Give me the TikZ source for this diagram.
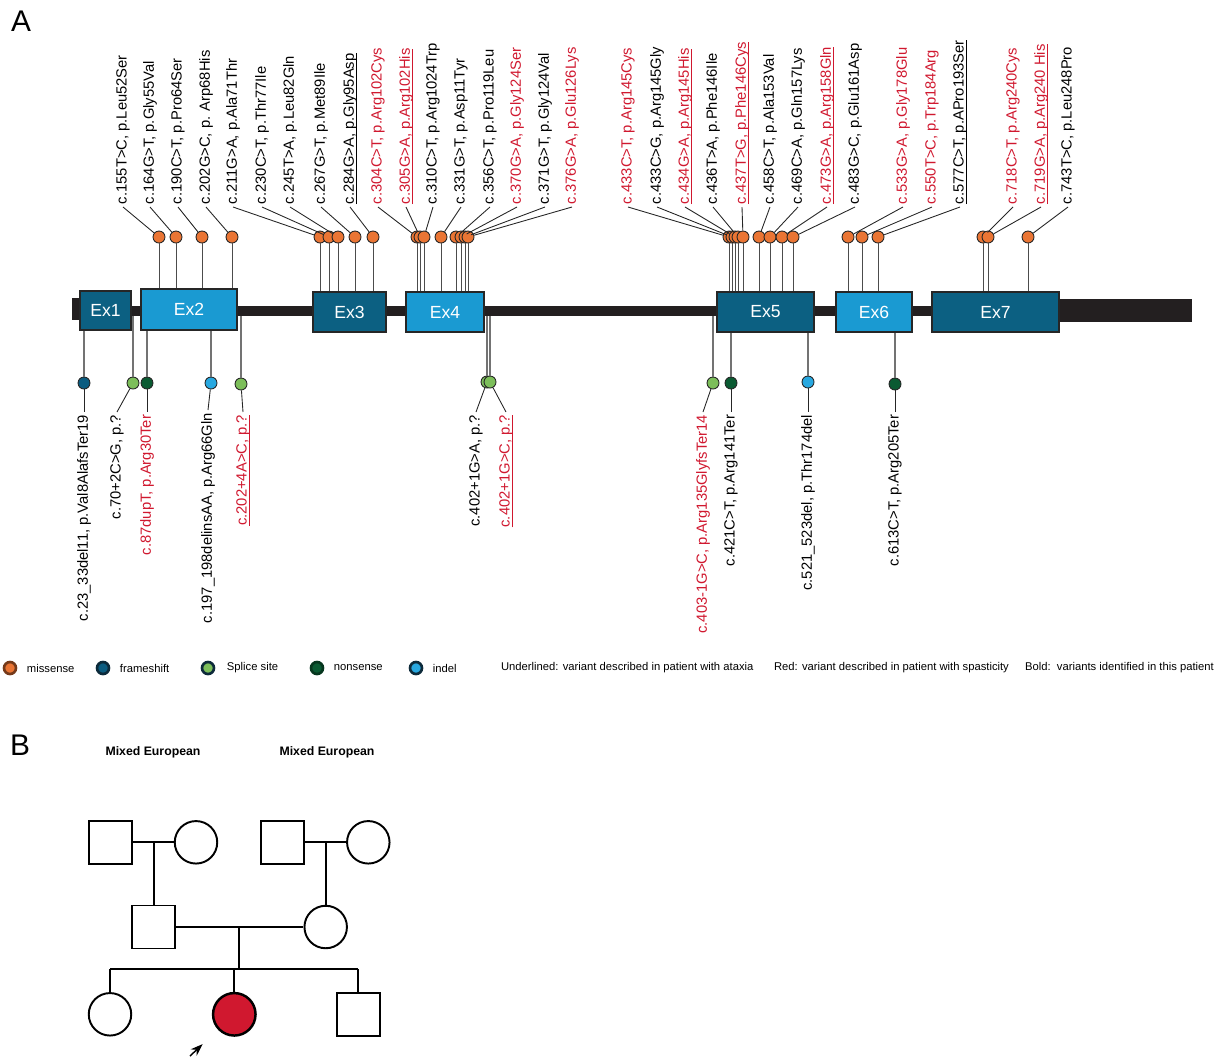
\documentclass[tikz,border=0pt]{standalone}
\usepackage{fontspec}
\setmainfont{Liberation Sans}
\usetikzlibrary{positioning,arrows.meta}
\newsavebox\ulbox
\newcommand{\ulvar}[1]{\sbox\ulbox{#1}\rlap{\rule[-1.6pt]{\wd\ulbox}{0.45pt}}\usebox\ulbox}
\definecolor{exdark}{RGB}{12,96,130}
\definecolor{exlight}{RGB}{26,154,210}
\definecolor{misscol}{RGB}{234,117,52}
\definecolor{fscol}{RGB}{11,92,128}
\definecolor{splcol}{RGB}{124,190,90}
\definecolor{noncol}{RGB}{10,90,50}
\definecolor{indcol}{RGB}{40,168,224}
\definecolor{varred}{RGB}{208,24,47}
\definecolor{bbcol}{RGB}{35,31,32}
\definecolor{rimcol}{RGB}{13,42,58}

\begin{document}
\begin{tikzpicture}[x=0.02cm,y=-0.02cm,>={Stealth[length=7pt,width=5pt]},
    exon/.style={draw=black!85,line width=0.6pt,text=white,inner sep=0pt,minimum height=0.8cm,font=\fontsize{10}{12}\selectfont},
    dark exon/.style={exon,fill=exdark},
    light exon/.style={exon,fill=exlight},
    lolly/.style={circle,draw=black!85,line width=0.5pt,inner sep=0pt,minimum size=0.24cm},
    miss/.style={lolly,fill=misscol},
    fshift/.style={lolly,fill=fscol},
    splice/.style={lolly,fill=splcol},
    nons/.style={lolly,fill=noncol},
    indel/.style={lolly,fill=indcol},
    top label/.style={rotate=90,anchor=west,inner sep=1.5pt,font=\fontsize{8.4}{10}\selectfont},
    bottom label/.style={rotate=90,anchor=east,inner sep=1.5pt,font=\fontsize{8.4}{10}\selectfont},
    spast/.style={text=varred},
    stem/.style={black!70,line width=0.4pt},
    bstem/.style={black!55,line width=0.7pt},
    lead/.style={black!85,line width=0.5pt},
    lgd/.style={circle,line width=1.5pt,inner sep=0pt,minimum size=0.24cm},
    lgtxt/.style={inner sep=1pt,font=\fontsize{6.4}{8}\selectfont},
    ind/.style={draw,line width=1.1pt,inner sep=0pt,minimum size=0.86cm},
    male/.style={ind,rectangle},
    female/.style={ind,circle,minimum size=0.85cm}]

\useasboundingbox (0,0) rectangle (1217,1056);

\node[font=\fontsize{17}{20}\selectfont] (A) at (21,21) {A};
\node[font=\fontsize{17}{20}\selectfont] (B) at (20,745) {B};

\fill[bbcol] (72,298) rectangle (81,320);
\fill[bbcol] (81,306) rectangle (1059,316);
\fill[bbcol] (1059,299) rectangle (1192,322);
\coordinate (bb) at (0,316);

\node[dark exon,minimum width=1.02cm,minimum height=0.78cm] (ex1) at (105.5,310.5) {Ex1};
\node[light exon,minimum width=1.92cm,minimum height=0.82cm] (ex2) at (189,309.5) {Ex2};
\node[dark exon,minimum width=1.46cm] (ex3) at (349.5,312) {Ex3};
\node[light exon,minimum width=1.56cm] (ex4) at (445,312) {Ex4};
\node[dark exon,minimum width=1.94cm] (ex5) at (765.5,312) {Ex5};
\node[light exon,minimum width=1.52cm] (ex6) at (874,312) {Ex6};
\node[dark exon,minimum width=2.54cm] (ex7) at (995.5,312) {Ex7};

\node[top label] (v155) at (123,207) {c.155T>C, p.Leu52Ser};
\node[top label] (v164) at (150,207) {c.164G>T, p.Gly55Val};
\node[top label] (v190) at (178,207) {c.190C>T, p.Pro64Ser};
\node[top label] (v202) at (206,207) {c.202G>C, p. Arp68His};
\node[top label] (v211) at (233,207) {c.211G>A, p.Ala71Thr};
\node[top label] (v230) at (262,207) {c.230C>T, p.Thr77Ile};
\node[top label] (v245) at (290,207) {c.245T>A, p.Leu82Gln};
\node[top label] (v267) at (321,207) {c.267G>T, p.Met89Ile};
\node[top label] (v284) at (350,207) {\ulvar{c.284G>A, p.Gly95Asp}};
\node[top label,spast] (v304) at (378,207) {c.304C>T, p.Arg102Cys};
\node[top label,spast] (v305) at (406,207) {\ulvar{c.305G>A, p.Arg102His}};
\node[top label] (v310) at (433,207) {c.310C>T, p.Arg1024Trp};
\node[top label] (v331) at (461,207) {c.331G>T, p.Asp11Tyr};
\node[top label] (v356) at (490,207) {c.356C>T, p.Pro119Leu};
\node[top label,spast] (v370) at (517,207) {c.370G>A, p.Gly124Ser};
\node[top label] (v371) at (545,207) {c.371G>T, p.Gly124Val};
\node[top label,spast] (v376) at (572,207) {c.376G>A, p.Glu126Lys};
\node[top label,spast] (v433a) at (628,207) {c.433C>T, p.Arg145Cys};
\node[top label] (v433b) at (657,207) {c.433C>G, p.Arg145Gly};
\node[top label,spast] (v434) at (685,207) {\ulvar{c.434G>A, p.Arg145His}};
\node[top label] (v436) at (713,207) {c.436T>A, p.Phe146Ile};
\node[top label,spast] (v437) at (742,207) {\ulvar{c.437T>G, p.Phe146Cys}};
\node[top label] (v458) at (770,207) {c.458C>T, p.Ala153Val};
\node[top label] (v469) at (798,207) {c.469C>A, p.Gln157Lys};
\node[top label,spast] (v473) at (827,207) {\ulvar{c.473G>A, p.Arg158Gln}};
\node[top label] (v483) at (855,207) {c.483G>C, p.Glu161Asp};
\node[top label,spast] (v533) at (903,207) {c.533G>A, p.Gly178Glu};
\node[top label,spast] (v550) at (932,207) {c.550T>C, p.Trp184Arg};
\node[top label] (v577) at (960,207) {\ulvar{c.577C>T, p.APro193Ser}};
\node[top label,spast] (v718) at (1013,207) {c.718C>T, p.Arg240Cys};
\node[top label,spast] (v719) at (1041,207) {\ulvar{c.719G>A, p.Arg240 His}};
\node[top label] (v743) at (1068,207) {c.743T>C, p.Leu248Pro};

\node[miss] (p155) at (159,237) {};
\node[miss] (p164) at (176,237) {};
\node[miss] (p190) at (202,237) {};
\node[miss] (p202) at (232,237) {};
\node[miss] (p211) at (320,237) {};
\node[miss] (p230) at (329,237) {};
\node[miss] (p245) at (338,237) {};
\node[miss] (p267) at (355,237) {};
\node[miss] (p284) at (373,237) {};
\node[miss] (p304) at (417,237) {};
\node[miss] (p305) at (420,237) {};
\node[miss] (p310) at (424,237) {};
\node[miss] (p331) at (441,237) {};
\node[miss] (p356) at (456,237) {};
\node[miss] (p370) at (461,237) {};
\node[miss] (p371) at (465,237) {};
\node[miss] (p376) at (468,237) {};
\node[miss] (p433a) at (729,237) {};
\node[miss] (p433b) at (732,237) {};
\node[miss] (p434) at (735,237) {};
\node[miss] (p436) at (738,237) {};
\node[miss] (p437) at (743,237) {};
\node[miss] (p458) at (759,237) {};
\node[miss] (p469) at (770,237) {};
\node[miss] (p473) at (782,237) {};
\node[miss] (p483) at (793,237) {};
\node[miss] (p533) at (848,237) {};
\node[miss] (p550) at (862,237) {};
\node[miss] (p577) at (878,237) {};
\node[miss] (p718) at (983,237) {};
\node[miss] (p719) at (988,237) {};
\node[miss] (p743) at (1028,237) {};

\path[stem]
    (p155) edge (p155 |- ex2.north)
    (p164) edge (p164 |- ex2.north)
    (p190) edge (p190 |- ex2.north)
    (p202) edge (p202 |- ex2.north)
    (p211) edge (p211 |- ex3.north)
    (p230) edge (p230 |- ex3.north)
    (p245) edge (p245 |- ex3.north)
    (p267) edge (p267 |- ex3.north)
    (p284) edge (p284 |- ex3.north)
    (p304) edge (p304 |- ex4.north)
    (p305) edge (p305 |- ex4.north)
    (p310) edge (p310 |- ex4.north)
    (p331) edge (p331 |- ex4.north)
    (p356) edge (p356 |- ex4.north)
    (p370) edge (p370 |- ex4.north)
    (p371) edge (p371 |- ex4.north)
    (p376) edge (p376 |- ex4.north)
    (p433a) edge (p433a |- ex5.north)
    (p433b) edge (p433b |- ex5.north)
    (p434) edge (p434 |- ex5.north)
    (p436) edge (p436 |- ex5.north)
    (p437) edge (p437 |- ex5.north)
    (p458) edge (p458 |- ex5.north)
    (p469) edge (p469 |- ex5.north)
    (p473) edge (p473 |- ex5.north)
    (p483) edge (p483 |- ex5.north)
    (p533) edge (p533 |- ex6.north)
    (p550) edge (p550 |- ex6.north)
    (p577) edge (p577 |- ex6.north)
    (p718) edge (p718 |- ex7.north)
    (p719) edge (p719 |- ex7.north)
    (p743) edge (p743 |- ex7.north)
;

\path[lead]
    (v155.west) edge (p155)
    (v164.west) edge (p164)
    (v190.west) edge (p190)
    (v202.west) edge (p202)
    (v211.west) edge (p211)
    (v230.west) edge (p230)
    (v245.west) edge (p245)
    (v267.west) edge (p267)
    (v284.west) edge (p284)
    (v304.west) edge (p304)
    (v305.west) edge (p305)
    (v310.west) edge (p310)
    (v331.west) edge (p331)
    (v356.west) edge (p356)
    (v370.west) edge (p370)
    (v371.west) edge (p371)
    (v376.west) edge (p376)
    (v433a.west) edge (p433a)
    (v433b.west) edge (p433b)
    (v434.west) edge (p434)
    (v436.west) edge (p436)
    (v437.west) edge (p437)
    (v458.west) edge (p458)
    (v469.west) edge (p469)
    (v473.west) edge (p473)
    (v483.west) edge (p483)
    (v533.west) edge (p533)
    (v550.west) edge (p550)
    (v577.west) edge (p577)
    (v718.west) edge (p718)
    (v719.west) edge (p719)
    (v743.west) edge (p743)
;

\node[fshift] (q23) at (84,383) {};
\node[splice] (q70) at (133,383) {};
\node[nons] (q87) at (147,383) {};
\node[indel] (q197) at (211,383) {};
\node[splice] (q202) at (241,384) {};
\node[splice] (q402a) at (487,382) {};
\node[splice] (q402b) at (490,382) {};
\node[splice] (q403) at (713,383) {};
\node[nons] (q421) at (731,383) {};
\node[indel] (q521) at (808,382) {};
\node[nons] (q613) at (895,384) {};

\path[bstem]
    (q23) edge (q23 |- ex1.south)
    (q70) edge (q70 |- bb)
    (q87) edge (q87 |- ex2.south)
    (q197) edge (q197 |- ex2.south)
    (q202) edge (q202 |- bb)
    (q402a) edge (q402a |- bb)
    (q402b) edge (q402b |- bb)
    (q403) edge (q403 |- bb)
    (q421) edge (q421 |- ex5.south)
    (q521) edge (q521 |- ex5.south)
    (q613) edge (q613 |- ex6.south)
;

\node[bottom label] (w23) at (84,412) {c.23\_33del11, p.Val8AlafsTer19};
\node[bottom label] (w70) at (117,412) {c.70+2C>G, p.?};
\node[bottom label,spast] (w87) at (147,412) {c.87dupT, p.Arg30Ter};
\node[bottom label] (w197) at (208,410) {c.197\_198delinsAA, p.Arg66Gln};
\node[bottom label,spast] (w202) at (243,412) {\ulvar{c.202+4A>C, p.?}};
\node[bottom label] (w402a) at (476,412) {c.402+1G>A, p.?};
\node[bottom label,spast] (w402b) at (506,412) {\ulvar{c.402+1G>C, p.?}};
\node[bottom label,spast] (w403) at (703,412) {c.403-1G>C, p.Arg135GlyfsTer14};
\node[bottom label] (w421) at (731,412) {c.421C>T, p.Arg141Ter};
\node[bottom label] (w521) at (808,412) {c.521\_523del, p.Thr174del};
\node[bottom label] (w613) at (895,412) {c.613C>T, p.Arg205Ter};

\path[lead]
    (q23) edge (w23.east)
    (q70) edge (w70.east)
    (q87) edge (w87.east)
    (q197) edge (w197.east)
    (q202) edge (w202.east)
    (q402a) edge (w402a.east)
    (q402b) edge (w402b.east)
    (q403) edge (w403.east)
    (q421) edge (w421.east)
    (q521) edge (w521.east)
    (q613) edge (w613.east)
;

\node[lgd,fill=misscol,draw=misscol!50!black] (lg1) at (10,668) {};
\node[lgtxt,right=0.15cm of lg1] (lt1) {missense};
\node[lgd,fill=fscol,draw=rimcol] (lg2) at (103,668) {};
\node[lgtxt,right=0.15cm of lg2] (lt2) {frameshift};
\node[lgd,fill=splcol,draw=rimcol] (lg3) at (208,668) {};
\node[lgtxt,right=0.19cm of lg3] (lt3) {Splice site};
\node[lgd,fill=noncol,draw=noncol!60!black] (lg4) at (317,668) {};
\node[lgtxt,right=0.15cm of lg4] (lt4) {nonsense};
\node[lgd,fill=indcol,draw=rimcol] (lg5) at (416,668) {};
\node[lgtxt,right=0.15cm of lg5] (lt5) {indel};
\node[lgtxt,anchor=west] (lt6) at (499,668) {Underlined: variant described in patient with ataxia};
\node[lgtxt,anchor=west] (lt7) at (772,668) {Red: variant described in patient with spasticity};
\node[lgtxt,anchor=west] (lt8) at (1023,668) {Bold:\ \ variants identified in this patient};

\node[font=\bfseries\fontsize{7}{8}\selectfont] (eth1) at (153,752) {Mixed European};
\node[font=\bfseries\fontsize{7}{8}\selectfont] (eth2) at (327,752) {Mixed European};

\node[male] (gf1) at (110.3,842.3) {};
\node[female] (gm1) at (196,842.3) {};
\node[male] (gf2) at (282.5,842.3) {};
\node[female] (gm2) at (368.3,842.3) {};
\node[male] (fa) at (153.7,927) {};
\node[female] (mo) at (325.7,927) {};
\node[female] (sis) at (110,1014.3) {};
\node[female,fill=varred,line width=1.4pt] (pro) at (234.3,1014.3) {};
\node[male] (bro) at (358.3,1014.3) {};
\coordinate (mid) at (239.3,927);
\coordinate (sib) at (239.3,969);
\coordinate (ptr) at (190,1056);

\path[line width=1.1pt]
    (gf1) edge (gm1)
    (fa.north |- gf1) edge (fa)
    (gf2) edge (gm2)
    (mo.north |- gf2) edge (mo)
    (fa) edge (mo)
    (mid) edge (sib)
    (sis |- sib) edge (bro |- sib)
    (sis |- sib) edge (sis)
    (pro |- sib) edge (pro)
    (bro |- sib) edge (bro)
;
\draw[->,line width=0.8pt,shorten >=0.42cm] (ptr) -- (pro);

\end{tikzpicture}
\end{document}
